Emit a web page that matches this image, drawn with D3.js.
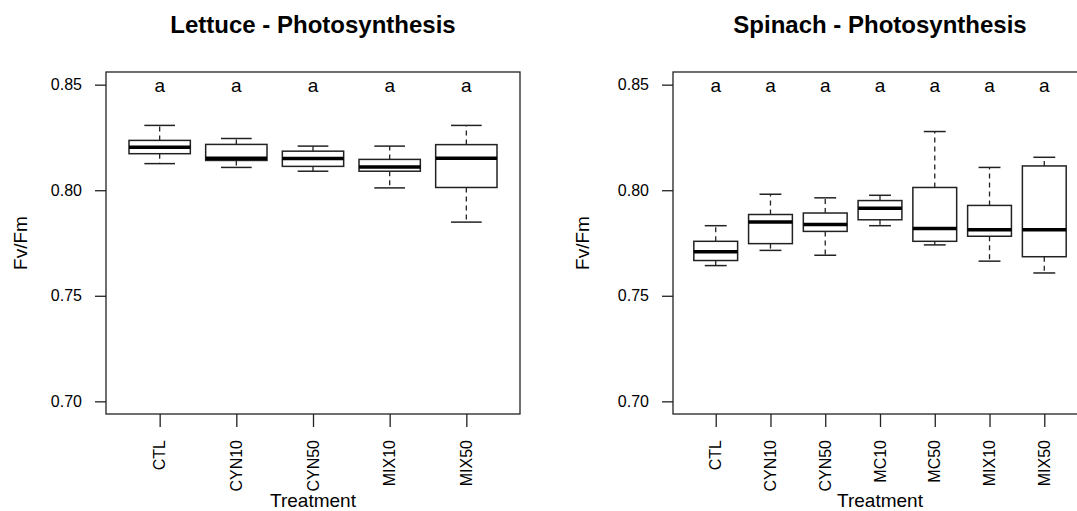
<!DOCTYPE html>
<html><head><meta charset="utf-8">
<script src="https://cdn.jsdelivr.net/npm/d3@7"></script>
<style>
html,body{margin:0;padding:0;background:#fff;overflow:hidden;}
text{font-family:"Liberation Sans",Arial,sans-serif;fill:#000;}
</style></head>
<body>
<svg id="chart" width="1077" height="511"></svg>
<script>
// ---- data ----
const yTicks = [0.70, 0.75, 0.80, 0.85];
const yLimits = [0.70, 0.85];

const lettuceCategories = ["CTL","CYN10","CYN50","MIX10","MIX50"];
const lettuceMin    = [0.8126, 0.8108, 0.8090, 0.8011, 0.7849];
const lettuceQ1     = [0.8173, 0.8141, 0.8113, 0.8090, 0.8013];
const lettuceMedian = [0.8204, 0.8152, 0.8150, 0.8110, 0.8151];
const lettuceQ3     = [0.8236, 0.8217, 0.8185, 0.8146, 0.8216];
const lettuceMax    = [0.8307, 0.8245, 0.8209, 0.8209, 0.8307];
const lettuceLetters = ["a","a","a","a","a"];

const spinachCategories = ["CTL","CYN10","CYN50","MC10","MC50","MIX10","MIX50"];
const spinachMin    = [0.7643, 0.7715, 0.7692, 0.7832, 0.7741, 0.7664, 0.7608];
const spinachQ1     = [0.7667, 0.7747, 0.7805, 0.7860, 0.7758, 0.7782, 0.7685];
const spinachMedian = [0.7709, 0.7849, 0.7838, 0.7915, 0.7819, 0.7813, 0.7813];
const spinachQ3     = [0.7758, 0.7885, 0.7892, 0.7951, 0.8013, 0.7928, 0.8115];
const spinachMax    = [0.7832, 0.7981, 0.7964, 0.7976, 0.8278, 0.8108, 0.8156];
const spinachLetters = ["a","a","a","a","a","a","a"];

const svg = d3.select("#chart");

function panel(opts){
  const {left, width, top, bottom, title, cats, mins, q1s, meds, q3s, maxs, letters, ylabX} = opts;
  const n = cats.length;
  const ext = 0.04 * n;
  const x = d3.scaleLinear().domain([0.5 - ext, n + 0.5 + ext]).range([left, left + width]);
  const yr = yLimits[1] - yLimits[0];
  const y = d3.scaleLinear().domain([yLimits[0] - 0.04*yr, yLimits[1] + 0.04*yr]).range([bottom, top]);
  const g = svg.append("g");
  const unit = x(2) - x(1);
  const bw = unit * 0.8;
  const sw = bw * 0.5;

  // title
  g.append("text").attr("x", left + width/2).attr("y", 33)
    .attr("text-anchor","middle").attr("font-size", 24).attr("font-weight","bold").text(title);

  // frame
  g.append("rect").attr("x", left).attr("y", top).attr("width", width).attr("height", bottom - top)
    .attr("fill","none").attr("stroke","#222").attr("stroke-width",1.3);

  // y axis
  const yAxis = d3.axisLeft(y).tickValues(yTicks).tickFormat(d3.format(".2f")).tickSize(11).tickPadding(13);
  const ya = g.append("g").attr("transform", `translate(${left},0)`).call(yAxis);
  ya.select(".domain").remove();
  ya.selectAll(".tick line").attr("stroke","#222").attr("stroke-width",1.3);
  ya.selectAll(".tick text").attr("font-size",16).attr("font-family","Liberation Sans, Arial, sans-serif").attr("fill","#000");

  // x axis
  const idx = d3.range(1, n+1);
  const xAxis = d3.axisBottom(x).tickValues(idx).tickFormat(()=>"").tickSize(13);
  const xa = g.append("g").attr("transform", `translate(0,${bottom})`).call(xAxis);
  xa.select(".domain").remove();
  xa.selectAll(".tick line").attr("stroke","#222").attr("stroke-width",1.3);
  g.selectAll(".xl").data(cats).enter().append("text")
    .attr("transform",(d,i)=>`translate(${x(i+1)+5.5},${bottom+26}) rotate(-90)`)
    .attr("text-anchor","end").attr("font-size",16).text(d=>d);

  // labels
  g.append("text").attr("x", left + width/2).attr("y", 507).attr("text-anchor","middle")
    .attr("font-size",19).text("Treatment");
  g.append("text").attr("transform",`translate(${ylabX},${(top+bottom)/2}) rotate(-90)`)
    .attr("text-anchor","middle").attr("font-size",19).text("Fv/Fm");

  // boxes
  const bg = g.selectAll(".box").data(idx).enter().append("g");
  const i0 = d => d - 1;
  // whiskers
  bg.append("line").attr("x1",d=>x(d)).attr("x2",d=>x(d))
    .attr("y1",d=>y(q3s[i0(d)])).attr("y2",d=>y(maxs[i0(d)]))
    .attr("stroke","#222").attr("stroke-width",1.3).attr("stroke-dasharray","5,4");
  bg.append("line").attr("x1",d=>x(d)).attr("x2",d=>x(d))
    .attr("y1",d=>y(q1s[i0(d)])).attr("y2",d=>y(mins[i0(d)]))
    .attr("stroke","#222").attr("stroke-width",1.3).attr("stroke-dasharray","5,4");
  // staples
  bg.append("line").attr("x1",d=>x(d)-sw/2).attr("x2",d=>x(d)+sw/2)
    .attr("y1",d=>y(maxs[i0(d)])).attr("y2",d=>y(maxs[i0(d)]))
    .attr("stroke","#222").attr("stroke-width",1.5);
  bg.append("line").attr("x1",d=>x(d)-sw/2).attr("x2",d=>x(d)+sw/2)
    .attr("y1",d=>y(mins[i0(d)])).attr("y2",d=>y(mins[i0(d)]))
    .attr("stroke","#222").attr("stroke-width",1.5);
  // box
  bg.append("rect").attr("x",d=>x(d)-bw/2).attr("width",bw)
    .attr("y",d=>y(q3s[i0(d)])).attr("height",d=>y(q1s[i0(d)])-y(q3s[i0(d)]))
    .attr("fill","#fff").attr("stroke","#222").attr("stroke-width",1.5);
  // median
  bg.append("line").attr("x1",d=>x(d)-bw/2).attr("x2",d=>x(d)+bw/2)
    .attr("y1",d=>y(meds[i0(d)])).attr("y2",d=>y(meds[i0(d)]))
    .attr("stroke","#000").attr("stroke-width",3.5);

  // letters
  g.selectAll(".lt").data(letters).enter().append("text")
    .attr("x",(d,i)=>x(i+1)).attr("y", y(yLimits[1]) + 7)
    .attr("text-anchor","middle").attr("font-size",19).text(d=>d);
}

panel({left:106, width:414, top:72, bottom:414, title:"Lettuce - Photosynthesis",
  cats:lettuceCategories, mins:lettuceMin, q1s:lettuceQ1, meds:lettuceMedian, q3s:lettuceQ3, maxs:lettuceMax,
  letters:lettuceLetters, ylabX:27});
panel({left:673, width:414, top:72, bottom:414, title:"Spinach - Photosynthesis",
  cats:spinachCategories, mins:spinachMin, q1s:spinachQ1, meds:spinachMedian, q3s:spinachQ3, maxs:spinachMax,
  letters:spinachLetters, ylabX:589});
</script>
</body></html>
